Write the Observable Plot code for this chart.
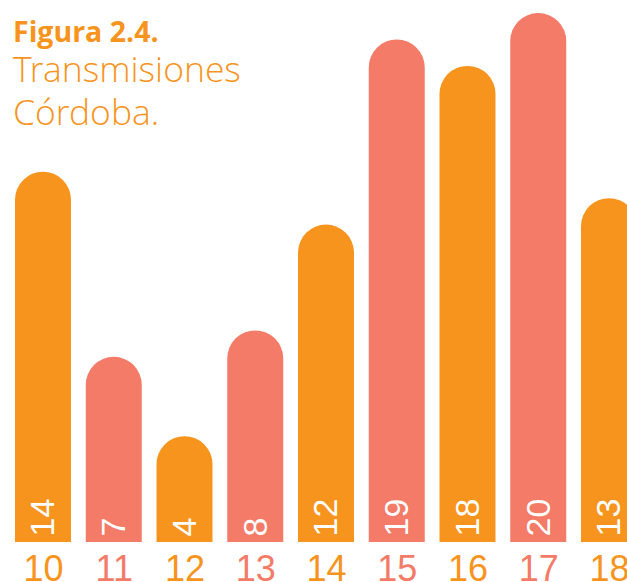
<!DOCTYPE html>
<html>
<head>
<meta charset="utf-8">
<script src="https://cdn.jsdelivr.net/npm/d3@7"></script>
<script src="https://cdn.jsdelivr.net/npm/@observablehq/plot@0.6"></script>
<style>
  html, body { margin: 0; padding: 0; background: #fff; overflow: hidden; }
  #wrap { position: relative; width: 627px; height: 582px; overflow: hidden; }
  #chart svg { overflow: hidden; display: block; }
  .t { position: absolute; left: 13px; line-height: 1; white-space: nowrap; color: #F7941D; font-family: "Open Sans", sans-serif; }
  #t1 { top: 17px; font-size: 28.5px; font-weight: 700; }
  #t2, #t3 { font-family: "Open Sans Light", "Open Sans", sans-serif; font-size: 35.5px; font-weight: 300; }
  #t2 { top: 50.5px; }
  #t3 { top: 93.5px; }
</style>
</head>
<body>
<div id="wrap">
  <div id="chart"></div>
  <div class="t" id="t1">Figura 2.4.</div>
  <div class="t" id="t2">Transmisiones</div>
  <div class="t" id="t3">Córdoba.</div>
</div>
<script>
const categories = ["10", "11", "12", "13", "14", "15", "16", "17", "18"];
const values = [14, 7, 4, 8, 12, 19, 18, 20, 13];
const colors = ["#F7941D", "#F37B68", "#F7941D", "#F37B68", "#F7941D", "#F37B68", "#F7941D", "#F37B68", "#F7941D"];

const data = categories.map((c, i) => ({cat: c, value: values[i], color: colors[i]}));

const chart = Plot.plot({
  width: 627,
  height: 582,
  marginTop: 13,
  marginBottom: 40,
  marginLeft: 0,
  marginRight: 0,
  x: {type: "band", domain: categories, range: [0.25, 651.75], padding: 14.75 / 70.75, round: false, axis: null},
  y: {domain: [0, 20], axis: null},
  marks: [
    Plot.barY(data, {x: "cat", y: "value", fill: "color", rx: 28, insetBottom: -30, clip: true}),
    Plot.text(data, {
      x: "cat", y: 0, text: d => String(d.value), rotate: -90,
      textAnchor: "start", lineAnchor: "middle", dy: -6,
      fill: "white", fontSize: 34, fontFamily: "Liberation Sans, Arial, sans-serif"
    }),
    Plot.text(data, {
      x: "cat", y: 0, text: "cat", lineAnchor: "top", dy: 13,
      fill: "color", fontSize: 36, fontFamily: "Liberation Sans, Arial, sans-serif"
    })
  ]
});
document.getElementById("chart").appendChild(chart);
</script>
</body>
</html>
